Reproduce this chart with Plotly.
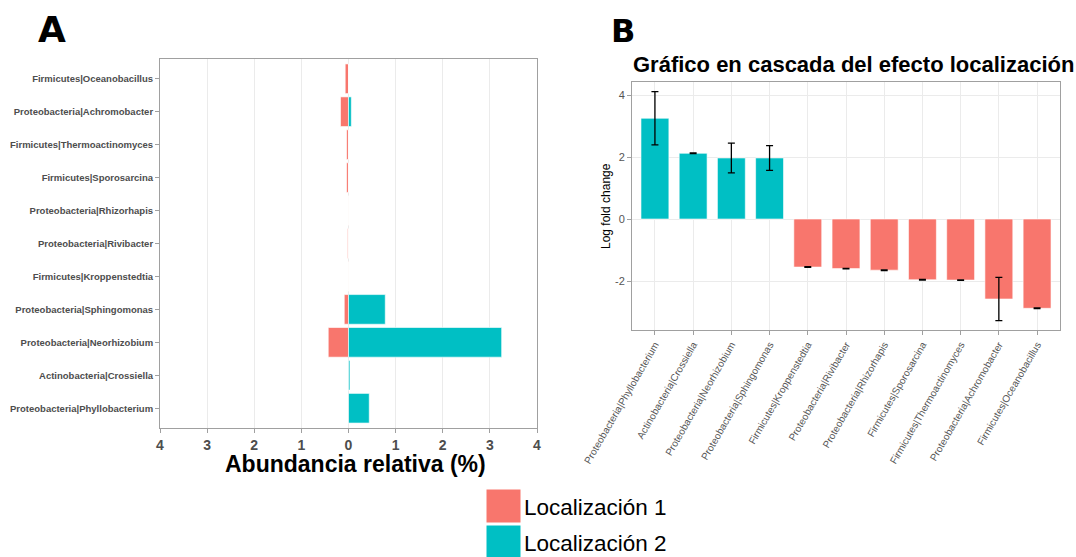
import plotly.graph_objects as go

# ---- Panel A data (bottom -> top) ----
taxa_a = [
    "Proteobacteria|Phyllobacterium",
    "Actinobacteria|Crossiella",
    "Proteobacteria|Neorhizobium",
    "Proteobacteria|Sphingomonas",
    "Firmicutes|Kroppenstedtia",
    "Proteobacteria|Rivibacter",
    "Proteobacteria|Rhizorhapis",
    "Firmicutes|Sporosarcina",
    "Firmicutes|Thermoactinomyces",
    "Proteobacteria|Achromobacter",
    "Firmicutes|Oceanobacillus",
]
loc1_abund = [-0.01, 0.0, -0.43, -0.09, -0.01, -0.02, -0.01, -0.04, -0.04, -0.17, -0.07]
loc2_abund = [0.44, 0.03, 3.25, 0.78, 0.0, 0.0, 0.0, 0.0, 0.0, 0.06, 0.0]
abund_ticks = [-4, -3, -2, -1, 0, 1, 2, 3, 4]
abund_ticktext = ["4", "3", "2", "1", "0", "1", "2", "3", "4"]

# ---- Panel B data ----
taxa_b = [
    "Proteobacteria|Phyllobacterium",
    "Actinobacteria|Crossiella",
    "Proteobacteria|Neorhizobium",
    "Proteobacteria|Sphingomonas",
    "Firmicutes|Kroppenstedtia",
    "Proteobacteria|Rivibacter",
    "Proteobacteria|Rhizorhapis",
    "Firmicutes|Sporosarcina",
    "Firmicutes|Thermoactinomyces",
    "Proteobacteria|Achromobacter",
    "Firmicutes|Oceanobacillus",
]
lfc = [3.25, 2.12, 1.97, 1.97, -1.55, -1.60, -1.65, -1.96, -1.97, -2.58, -2.88]
lfc_err = [0.86, 0.01, 0.48, 0.40, 0.01, 0.01, 0.01, 0.01, 0.01, 0.70, 0.01]
lfc_group = [2, 2, 2, 2, 1, 1, 1, 1, 1, 1, 1]
lfc_ticks = [-2, 0, 2, 4]
lfc_ticktext = ["-2", "0", "2", "4"]

C1 = "#F8766D"
C2 = "#00BFC4"
legend_labels = ["Localización 1", "Localización 2"]

W, H = 1076, 557
def px(x):
    return x / W
def py(y):
    return 1 - y / H

fig = go.Figure()

fig.add_trace(go.Bar(
    y=taxa_a, x=loc1_abund, orientation="h", marker_color=C1,
    marker_line=dict(color="rgba(255,255,255,0.6)", width=1),
    width=0.9, xaxis="x", yaxis="y", showlegend=False, name=legend_labels[0]))
fig.add_trace(go.Bar(
    y=taxa_a, x=loc2_abund, orientation="h", marker_color=C2,
    marker_line=dict(color="rgba(255,255,255,0.6)", width=1),
    width=0.9, xaxis="x", yaxis="y", showlegend=False, name=legend_labels[1]))

fig.add_trace(go.Bar(
    x=taxa_b, y=lfc,
    marker_color=[C2 if g == 2 else C1 for g in lfc_group],
    marker_line=dict(color="rgba(255,255,255,0.6)", width=1),
    width=0.73,
    error_y=dict(type="data", array=lfc_err, color="black", thickness=1.3, width=3.5),
    xaxis="x2", yaxis="y2", showlegend=False))

grid = "#ebebeb"
border = "#a0a0a0"
tickgrey = "#4d4d4d"

fig.update_layout(
    width=W, height=H,
    margin=dict(l=0, r=0, t=0, b=0, autoexpand=False),
    paper_bgcolor="white", plot_bgcolor="white",
    barmode="overlay",
    font=dict(family="Liberation Sans, Arial, sans-serif"),
    xaxis=dict(
        domain=[px(160), px(537)], anchor="y",
        range=[-4, 4], tickvals=abund_ticks, ticktext=abund_ticktext,
        tickfont=dict(size=14, color=tickgrey, weight="bold"),
        showgrid=True, gridcolor=grid, gridwidth=1,
        zeroline=False, showline=True, mirror=True, linecolor=border, linewidth=1,
        ticks="outside", ticklen=4, tickcolor=border, automargin=False,
    ),
    yaxis=dict(
        domain=[py(428), py(59)], anchor="x",
        type="category", categoryorder="array", categoryarray=taxa_a,
        range=[-0.6, 10.6],
        tickfont=dict(size=9.5, color=tickgrey, weight="bold"),
        showgrid=False, zeroline=False,
        showline=True, mirror=True, linecolor=border, linewidth=1,
        ticks="outside", ticklen=4, tickcolor=border, automargin=False,
    ),
    xaxis2=dict(
        domain=[px(632), px(1060)], anchor="y2",
        type="category", categoryorder="array", categoryarray=taxa_b,
        range=[-0.6, 10.6],
        tickangle=-60,
        tickfont=dict(size=10, color="#555555"),
        showgrid=True, gridcolor=grid, gridwidth=1,
        zeroline=False, showline=True, mirror=True, linecolor=border, linewidth=1,
        ticks="outside", ticklen=4, tickcolor=border, automargin=False,
    ),
    yaxis2=dict(
        domain=[py(330), py(82)], anchor="x2",
        range=[-3.58, 4.42], tickvals=lfc_ticks, ticktext=lfc_ticktext,
        tickfont=dict(size=11, color="#555555"),
        showgrid=True, gridcolor=grid, gridwidth=1,
        zeroline=False, showline=True, mirror=True, linecolor=border, linewidth=1,
        ticks="outside", ticklen=4, tickcolor=border, automargin=False,
    ),
)

def ann(text, x, y, size, weight="normal", family=None, angle=0, xanchor="center"):
    f = dict(size=size, color="black", weight=weight)
    if family:
        f["family"] = family
    return dict(text=text, x=px(x), y=py(y), xref="paper", yref="paper",
                showarrow=False, xanchor=xanchor, yanchor="middle",
                textangle=angle, font=f)

annotations = [
    ann("A", 52, 30, 36, "bold", "DejaVu Sans"),
    ann("B", 623, 31, 32, "bold", "DejaVu Sans"),
    ann("Abundancia relativa (%)", 355, 464, 23, "bold"),
    ann("Gráfico en cascada del efecto localización", 853, 64, 22, "bold"),
    ann("Log fold change", 606, 206, 12, angle=-90),
]
shapes = []
leg_colors = [C1, C2]
leg_tops = [489, 525]
for lab, col, top in zip(legend_labels, leg_colors, leg_tops):
    shapes.append(dict(type="rect", xref="paper", yref="paper",
                       x0=px(486), x1=px(521), y0=py(top + 34), y1=py(top),
                       fillcolor=col, line=dict(color="white", width=1)))
    annotations.append(ann(lab, 522, top + 18, 22.5, xanchor="left"))

fig.update_layout(annotations=annotations, shapes=shapes)
fig.write_html("out.html")
